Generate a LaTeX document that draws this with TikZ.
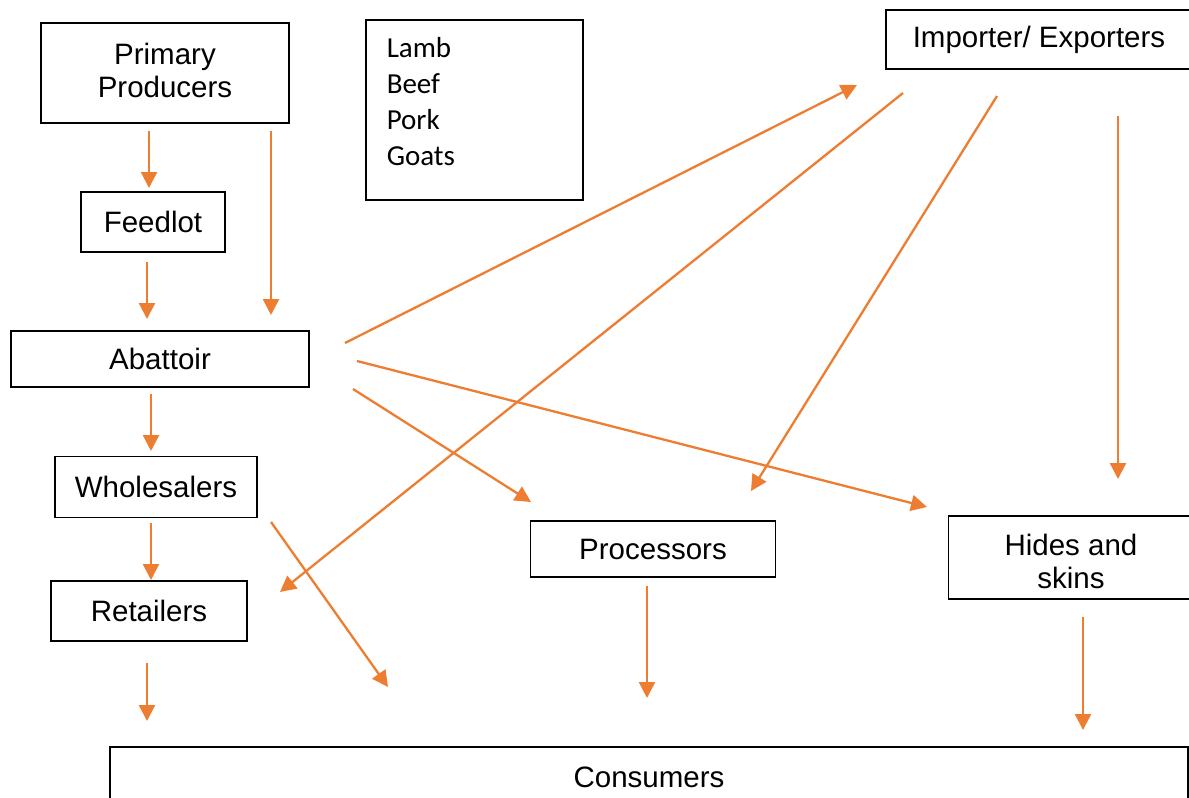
\documentclass[tikz,border=0pt]{standalone}
\usepackage{fontspec}
\setmainfont{Liberation Sans}
\newfontfamily\calibri{Carlito}
\usepackage{tikz}
\usetikzlibrary{arrows.meta}
\definecolor{flow}{HTML}{ED7D31}

\begin{document}
\begin{tikzpicture}[
    x=1pt, y=-1pt,
    every node/.style={font=\fontsize{29.5}{33}\selectfont},
    box/.style={draw=black, line width=1.5pt, align=center, inner sep=0pt},
    listbox/.style={draw=black, line width=1.5pt, align=left, anchor=north west, inner xsep=21pt, font=\calibri\fontsize{29}{36}\selectfont},
    flowarrow/.style={draw=flow, line width=2.3pt, -{Triangle[length=16pt,width=16pt]}}
]

\useasboundingbox (0,0) rectangle (1189,798);

% Boxes
\node[box, minimum width=248pt, minimum height=100pt] (prod) at (165,73) {Primary\\Producers\rule[-6pt]{0pt}{6pt}};
\node[listbox, minimum width=217pt, minimum height=180pt, text width=175pt] (meat) at (365,19) {Lamb\\Beef\\Pork\\Goats\rule[-16pt]{0pt}{16pt}};
\node[box, minimum width=306pt, minimum height=59pt] (trade) at (1039,39.5) {Importer/ Exporters};
\node[box, minimum width=144pt, minimum height=60pt] (feed) at (153,222) {Feedlot};
\node[box, minimum width=298pt, minimum height=56pt] (abat) at (160,359) {Abattoir};
\node[box, minimum width=202pt, minimum height=61pt] (whole) at (156,487) {Wholesalers};
\node[box, minimum width=196pt, minimum height=60pt] (retail) at (149,611) {Retailers};
\node[box, minimum width=245pt, minimum height=56pt] (proc) at (653,549) {Processors};
\node[box, minimum width=245pt, minimum height=83pt] (hides) at (1071,557.5) {\rule{0pt}{30pt}Hides and\\skins};
\node[box, minimum width=1078pt, minimum height=60pt] (cons) at (649,777) {Consumers};

% Arrow ends (arrows float free of the boxes)
\coordinate (prodfeedA) at (149,131);
\coordinate (prodfeedB) at (149,188);
\coordinate (prodabatA) at (271,131);
\coordinate (prodabatB) at (271,315);
\coordinate (feedabatA) at (147,262);
\coordinate (feedabatB) at (147,319);
\coordinate (abatwholeA) at (151,394);
\coordinate (abatwholeB) at (151,451);
\coordinate (wholeretailA) at (151,523);
\coordinate (wholeretailB) at (151,580);
\coordinate (retailconsA) at (147,663);
\coordinate (retailconsB) at (147,721);
\coordinate (wholeconsA) at (271,522);
\coordinate (wholeconsB) at (388,687);
\coordinate (abattradeA) at (345,343);
\coordinate (abattradeB) at (857,85);
\coordinate (abathidesA) at (357,361);
\coordinate (abathidesB) at (927,507);
\coordinate (abatprocA) at (353,389);
\coordinate (abatprocB) at (531,502);
\coordinate (traderetailA) at (903,93);
\coordinate (traderetailB) at (280,592);
\coordinate (tradeprocA) at (997,96);
\coordinate (tradeprocB) at (751,491);
\coordinate (tradehidesA) at (1118,116);
\coordinate (tradehidesB) at (1118,479);
\coordinate (prodconsA) at (647,586);
\coordinate (prodconsB) at (647,698);
\coordinate (hidesconsA) at (1083,617);
\coordinate (hidesconsB) at (1083,730);

% Flows
\draw[flowarrow] (prodfeedA) -- (prodfeedB);
\draw[flowarrow] (prodabatA) -- (prodabatB);
\draw[flowarrow] (feedabatA) -- (feedabatB);
\draw[flowarrow] (abatwholeA) -- (abatwholeB);
\draw[flowarrow] (wholeretailA) -- (wholeretailB);
\draw[flowarrow] (retailconsA) -- (retailconsB);
\draw[flowarrow] (wholeconsA) -- (wholeconsB);
\draw[flowarrow] (abattradeA) -- (abattradeB);
\draw[flowarrow] (abathidesA) -- (abathidesB);
\draw[flowarrow] (abatprocA) -- (abatprocB);
\draw[flowarrow] (traderetailA) -- (traderetailB);
\draw[flowarrow] (tradeprocA) -- (tradeprocB);
\draw[flowarrow] (tradehidesA) -- (tradehidesB);
\draw[flowarrow] (prodconsA) -- (prodconsB);
\draw[flowarrow] (hidesconsA) -- (hidesconsB);

\end{tikzpicture}
\end{document}
